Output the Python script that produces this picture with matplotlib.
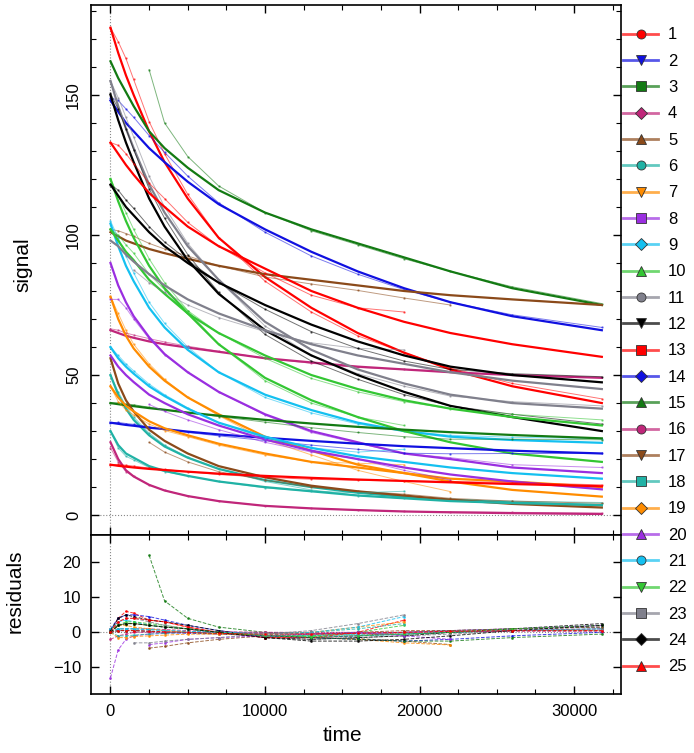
import numpy as np
import matplotlib
matplotlib.use('Agg')
import matplotlib.pyplot as plt
from matplotlib.lines import Line2D
from matplotlib.ticker import MultipleLocator
from matplotlib.colors import to_rgba

plt.rcParams['font.family'] = ['Liberation Sans', 'DejaVu Sans']

nan = np.nan

# sample times
time = [0, 500, 1000, 1500, 2500, 3500, 5000, 7000, 10000, 13000, 16000, 19000, 22000, 26000, 31800]

# fitted curves (one row per series 1..25)
fit_values = [
    [174, 165, 157, 150, 137, 126, 113, 99, 85, 74, 65, 58, 52, 46, 40],
    [148, 144, 140, 137, 131, 126, 119, 111, 102, 94, 87, 81, 76, 71, 66],
    [162, 156, 151, 146, 137, 131, 124, 116, 108, 102, 97, 92, 87, 81, 75],
    [66, 65, 64, 63.3, 62, 61, 59.8, 58.3, 56, 54.5, 53, 52, 51, 50, 49],
    [101, 99.5, 98, 97, 95, 93.5, 91.5, 89, 86, 84, 82, 80, 78.5, 77, 75],
    [50, 43, 38, 34, 28.5, 24.5, 20.5, 16.5, 12.5, 10, 8, 6.5, 5.5, 4.5, 3.5],
    [78, 70, 64, 59.5, 53, 48, 42, 36, 28, 23, 18, 15, 12, 9, 6.6],
    [90, 82, 76, 71, 63.5, 57.5, 51, 44, 36, 30, 26, 22, 20, 17, 15],
    [104, 96, 89, 83.5, 74, 67, 59, 51, 43, 37.5, 33, 30, 28, 26.8, 25.8],
    [120, 112, 105, 99, 89, 81, 72, 61, 49, 41, 35, 30, 26, 22, 19],
    [155, 146, 138, 131, 118, 108, 96, 84, 69, 59, 52, 47, 43, 40, 38],
    [150, 141, 133, 126, 113, 103, 91, 79, 66, 57, 50, 44, 39, 35, 30],
    [133, 129, 125, 121.5, 115, 110, 103, 96, 88, 80, 74, 69, 65, 61, 56.5],
    [33, 32.6, 32.2, 31.9, 31.2, 30.7, 29.8, 28.8, 27.6, 26.5, 25.5, 24.6, 23.9, 23, 22],
    [40, 39.6, 39.2, 38.9, 38.2, 37.6, 36.6, 35.5, 34, 32.7, 31.5, 30.5, 29.6, 28.6, 27.4],
    [26, 20, 16, 13.8, 10.8, 8.8, 6.8, 5, 3.3, 2.4, 1.8, 1.3, 1, 0.7, 0.4],
    [56, 47, 41, 37, 30.5, 26.5, 22, 17.5, 13.5, 10.5, 8.5, 7, 5.5, 4, 2.7],
    [30, 25, 22, 20.5, 17.5, 15.8, 14, 12, 10, 8.5, 7, 6, 5, 4.3, 3.6],
    [46, 42, 39, 37, 33.5, 31, 28.5, 25.5, 22, 19, 17, 15, 13, 12, 10],
    [57, 53, 50, 47.5, 43, 40, 36, 32, 27, 23, 20, 17, 14.5, 12, 9.2],
    [60, 56, 53, 50.5, 46, 42.5, 38, 33, 28, 24, 21, 19, 17, 15, 13],
    [102, 98, 94, 91, 84, 79, 72, 65, 57, 50, 45, 41, 38, 35, 32],
    [98, 96, 93, 90.5, 86, 82, 77, 72, 66, 61, 57, 54, 51, 48, 45],
    [118, 114, 110, 107, 101, 96, 90, 83, 75, 68, 62, 57, 53, 50, 47.4],
    [18, 17.6, 17.3, 17, 16.5, 16.1, 15.5, 14.8, 14, 13.3, 12.7, 12.2, 11.7, 11.1, 10.3],
]

# residuals (data - fit), nan where a series has no data
resid_values = [
    [0, 4, 6, 5.5, 3.5, 3, 1.5, 0, -1.5, -1.5, -1, 0, 0.5, 1, 1.5],
    [1, 4, 5, 5, 4.5, 3.5, 2, 0.5, -1, -1.5, -1, -0.5, 0, 0.5, 1],
    [nan, nan, nan, nan, 22, 9, 4, 1.5, 0, -0.5, -0.5, -0.5, 0, 0.5, 0.5],
    [0.5, 1, 1, 1, 1, 0.8, 0.5, 0.2, 0, -0.3, -0.3, 0, 0.3, nan, nan],
    [1, 2, 2.5, 2.5, 2, 1.5, 1, 0, -1, -1.5, -1.8, -2.5, -3.5, nan, nan],
    [0, 1, 1, 1, 0.8, 0.5, 0.2, 0, -0.5, -1, -1, -0.5, 0, 0.5, 1],
    [0, 2, 2, 1.5, 1, 0.5, 0, -0.5, -1, -1.5, -2, -3, -3.6, nan, nan],
    [-13, -5, -2, -1, -0.5, -0.3, 0, 0, -0.3, -0.5, -0.3, 0, 0.5, 1, 2],
    [1, 3, 3.5, 3, 2, 1.5, 1, 0, -1, -1, -0.5, 0, 0.5, 1, 1.5],
    [0, 2, 3, 3, 2.5, 2, 1, 0, -1, -1, 0, 2, nan, nan, nan],
    [0, 3, 4, 4, 3, 2, 1, 0, -1.5, -2, -1.5, -1, -0.5, 0.5, 1],
    [0.5, 4, 5, 4.5, 3.5, 3, 2, 0.5, -1.5, -2, -1.5, -1, 0, 1, 2.5],
    [0, 3, 4, 4, 3.5, 3, 1.5, 0, -1.5, -1.5, 0, 3.5, nan, nan, nan],
    [0, 0.5, 0.5, 0.5, 0.3, 0, -0.3, -0.5, -1, -1.5, -2, -2.5, -2, -1, 0],
    [0, 0.5, 0.5, 0.5, 0.3, 0, 0, -0.3, -0.8, -1.5, -2, -2.5, -2.5, -1.5, -0.5],
    [-2, -1, -0.5, 0, 0, 0, 0, 0, 0, 0, 0, 0, 0.2, 0.3, 0.3],
    [nan, nan, nan, nan, -4.5, -4, -3, -2, -1, -0.5, 0, 0.5, 0.5, 1, 1.5],
    [0, -1, -1, -0.8, -0.5, -0.3, 0, 0, -0.3, 0, 1, 2.5, nan, nan, nan],
    [0, -1.5, -1.5, -1.2, -1, -0.8, -0.5, -0.5, -0.5, 0, 1.5, 3, nan, nan, nan],
    [nan, nan, nan, nan, -3.5, -3, -2, -1.5, -1, -0.5, 0, -1, -2, nan, nan],
    [0, 1, 1, 1, 0.8, 0.5, 0.3, 0, -0.5, 0, 1.5, 4.5, nan, nan, nan],
    [0, 2, 2.5, 2.5, 2, 1.5, 1, 0, -1, -1.2, -1, -0.5, 0, 1, 2],
    [nan, nan, nan, -3, -3, -2.5, -2, -1.5, -0.5, 0.5, 2.5, 5, nan, nan, nan],
    [0, 2, 2.5, 2.5, 2, 1.5, 1, 0, -1.5, -2.5, -2.5, -2, -1, 0.5, 2],
    [0, 0.5, 0.5, 0.5, 0.3, 0.2, 0, -0.3, -0.5, -0.5, -0.3, 0, 0.3, 0.5, 0.5],
]

labels = [str(i) for i in range(1, 26)]

colors = ['#ff0000', '#1010e0', '#137a13', '#c0267a', '#8b4a1a', '#20b2a5',
          '#ff8c00', '#9a2ee0', '#14c0f0', '#33c633', '#80808c', '#000000']
markers = ['o', 'v', 's', 'D', '^']

fig = plt.figure(figsize=(6.94, 7.53), dpi=100)
ax1 = fig.add_axes([0.1307, 0.2895, 0.7641, 0.7039])
ax2 = fig.add_axes([0.1307, 0.0784, 0.7641, 0.2111], sharex=ax1)

for ax in (ax1, ax2):
    ax.axvline(0, color='#888888', ls=':', lw=0.8, zorder=0)
    ax.axhline(0, color='#888888', ls=':', lw=0.8, zorder=0)

for i in range(25):
    c = colors[i % 12]
    fit = np.array(fit_values[i])
    res = np.array(resid_values[i])
    data = fit + res
    ax1.plot(time, data, color=c, lw=0.7, alpha=0.55, marker='.', ms=1.5)
    ax1.plot(time, fit, color=c, lw=1.6)
    ax2.plot(time, res, color=c, lw=0.7, ls='--', marker='.', ms=2, alpha=0.8)

ax1.set_xlim(-1280, 33040)
ax1.set_ylim(-7.1, 182.1)
ax2.set_ylim(-17.6, 27.8)

ax1.set_yticks([0, 50, 100, 150])
ax1.yaxis.set_minor_locator(MultipleLocator(10))
ax1.xaxis.set_major_locator(MultipleLocator(10000))
ax1.xaxis.set_minor_locator(MultipleLocator(2500))
ax2.set_yticks([-10, 0, 10, 20])

for ax in (ax1, ax2):
    ax.tick_params(which='both', direction='in', top=True, right=True, labelsize=12, pad=7)
    ax.tick_params(which='major', length=6, width=1)
    ax.tick_params(which='minor', length=3.5, width=0.8)
    for s in ax.spines.values():
        s.set_linewidth(1.2)
ax1.tick_params(axis='x', labelbottom=False)
ax1.tick_params(axis='y', labelrotation=90)
for lbl in ax1.get_yticklabels():
    lbl.set_va('center')

ax1.set_ylabel('signal', fontsize=15)
ax1.yaxis.set_label_coords(-0.109, 0.51)
ax2.set_ylabel('residuals', fontsize=15)
ax2.yaxis.set_label_coords(-0.124, 0.648)
ax2.set_xlabel('time', fontsize=15)
ax2.xaxis.set_label_coords(0.474, -0.2)

# legend outside on the right
handles = []
for i in range(25):
    c = colors[i % 12]
    handles.append(Line2D([], [], color=to_rgba(c, 0.7), lw=2, marker=markers[i % 5], ms=6.5,
                          mfc=c, mec='#333333', mew=0.6))
fig.legend(handles, labels, loc='upper left', bbox_to_anchor=(0.8977, 0.9636), frameon=False,
           fontsize=12, handlelength=2.1, labelspacing=0.68, handletextpad=0.6,
           borderaxespad=0, borderpad=0)

fig.savefig('out.png', dpi=100)
